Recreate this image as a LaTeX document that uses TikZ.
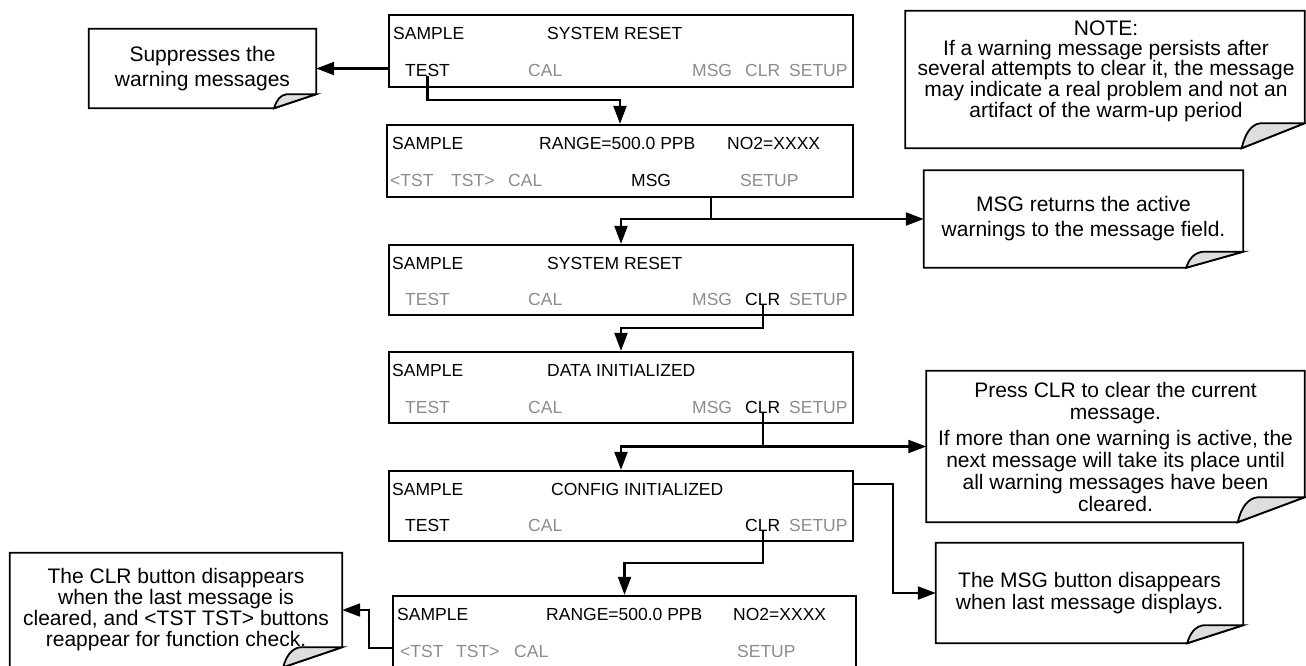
\documentclass[tikz,border=0pt]{standalone}
\usepackage{fontspec}
\setmainfont{Liberation Sans}
\usetikzlibrary{arrows.meta,backgrounds}
\definecolor{btngray}{gray}{0.55}
\definecolor{curlgray}{gray}{0.87}
\newcommand\scrfont{\fontsize{17.5}{20}\selectfont}
\newcommand\foldframe[3]{%
  \draw[callbox] (#1.north west) -- (#1.north east) -- ([yshift=#3pt]#1.south east)
     -- ([xshift=-#2pt]#1.south east) -- (#1.south west) -- cycle;
  \draw[callbox, fill=curlgray] ([xshift=-#2pt]#1.south east)
     .. controls ([xshift={-0.95*#2pt}, yshift={0.55*#3pt}]#1.south east)
     and ([xshift={-0.86*#2pt}, yshift={0.95*#3pt}]#1.south east)
     .. ([xshift={-0.7*#2pt}, yshift=#3pt]#1.south east) -- ([yshift=#3pt]#1.south east) -- cycle;
}
\begin{document}
\begin{tikzpicture}[x=1pt,y=-1pt,
  screen/.style={draw, line width=2.3pt, inner sep=0pt, rectangle},
  lbl/.style={anchor=base west, inner sep=0pt, font=\scrfont},
  dim/.style={lbl, text=btngray},
  conn/.style={line width=2.2pt},
  arr/.style={conn, -{Triangle[length=18pt,width=13pt]}},
  callout/.style={align=center, inner sep=0pt, rectangle},
  callbox/.style={line width=1.8pt, line join=miter}]
\useasboundingbox (0,0) rectangle (1306,665);

% screen 1
\node[screen, minimum width=464pt, minimum height=72pt] (s1) at (621,51) {};
\node[lbl] (s1a) at (393,39) {SAMPLE};
\node[lbl] (s1b) at (547,39) {SYSTEM RESET};
\node[lbl] (s1test) at (405,76) {TEST};
\node[dim] (s1cal) at (528,76) {CAL};
\node[dim] (s1msg) at (692,76) {MSG};
\node[dim] (s1clr) at (745,76) {CLR};
\node[dim] (s1setup) at (789,76) {SETUP};

% screen 2
\node[screen, minimum width=466pt, minimum height=72pt] (s2) at (620,161) {};
\node[lbl] (s2a) at (392,149) {SAMPLE};
\node[lbl] (s2b) at (539,149) {RANGE=500.0 PPB};
\node[lbl] (s2c) at (727,149) {NO2=XXXX};
\node[dim] (s2t1) at (390,186) {<TST};
\node[dim] (s2t2) at (451,186) {TST>};
\node[dim] (s2cal) at (508,186) {CAL};
\node[lbl] (s2msg) at (631,186) {MSG};
\node[dim] (s2setup) at (740,186) {SETUP};

% screen 3
\node[screen, minimum width=464pt, minimum height=70pt] (s3) at (621,280) {};
\node[lbl] (s3a) at (392,269) {SAMPLE};
\node[lbl] (s3b) at (547,269) {SYSTEM RESET};
\node[dim] (s3test) at (405,305) {TEST};
\node[dim] (s3cal) at (528,305) {CAL};
\node[dim] (s3msg) at (692,305) {MSG};
\node[lbl] (s3clr) at (745,305) {CLR};
\node[dim] (s3setup) at (789,305) {SETUP};

% screen 4
\node[screen, minimum width=464pt, minimum height=71pt] (s4) at (621,387.5) {};
\node[lbl] (s4a) at (392,376) {SAMPLE};
\node[lbl] (s4b) at (547,376) {DATA INITIALIZED};
\node[dim] (s4test) at (405,413) {TEST};
\node[dim] (s4cal) at (528,413) {CAL};
\node[dim] (s4msg) at (692,413) {MSG};
\node[lbl] (s4clr) at (745,413) {CLR};
\node[dim] (s4setup) at (789,413) {SETUP};

% screen 5
\node[screen, minimum width=464pt, minimum height=70pt] (s5) at (621,506) {};
\node[lbl] (s5a) at (392,495) {SAMPLE};
\node[lbl] (s5b) at (551,495) {CONFIG INITIALIZED};
\node[lbl] (s5test) at (405,531) {TEST};
\node[dim] (s5cal) at (528,531) {CAL};
\node[lbl] (s5clr) at (745,531) {CLR};
\node[dim] (s5setup) at (789,531) {SETUP};

% screen 6
\node[screen, minimum width=463pt, minimum height=74pt] (s6) at (624.5,633) {};
\node[lbl] (s6a) at (397,620) {SAMPLE};
\node[lbl] (s6b) at (546,620) {RANGE=500.0 PPB};
\node[lbl] (s6c) at (733,620) {NO2=XXXX};
\node[dim] (s6t1) at (400,657) {<TST};
\node[dim] (s6t2) at (456,657) {TST>};
\node[dim] (s6cal) at (514,657) {CAL};
\node[dim] (s6setup) at (737,657) {SETUP};

% callouts
\node[callout, font={\fontsize{21}{25}\selectfont}, minimum width=227pt, minimum height=79pt]
  (cA) at (202.5,68.5) {Suppresses the\\warning messages};
\node[callout, minimum width=399pt, minimum height=137pt] (cNote) at (1105,79.5) {};
\node[callout, font={\fontsize{21}{19.5}\selectfont}, anchor=north] (cNoteTxt) at (1106,21)
  {NOTE:\\If a warning message persists after\\several attempts to clear it, the message\\may indicate a real problem and not an\\artifact of the warm-up period};
\node[callout, font={\fontsize{21}{25}\selectfont}, minimum width=319pt, minimum height=97pt]
  (cMsg) at (1083.5,219) {MSG returns the active\\warnings to the message field.};
\node[callout, font={\fontsize{21}{22}\selectfont}, minimum width=378pt, minimum height=151pt]
  (cPress) at (1115.5,446.5) {Press CLR to clear the current\\message.\\[4pt]If more than one warning is active, the\\next message will take its place until\\all warning messages have been\\cleared.};
\node[callout, font={\fontsize{21}{22}\selectfont}, minimum width=307pt, minimum height=100pt]
  (cMsg2) at (1089.5,593) {The MSG button disappears\\when last message displays.};
\node[callout, font={\fontsize{21}{21}\selectfont}, minimum width=332pt, minimum height=114pt]
  (cC) at (176,610) {The CLR button disappears\\when the last message is\\cleared, and <TST TST> buttons\\reappear for function check.};

\begin{scope}[on background layer]
\foldframe{cA}{42}{14}
\foldframe{cNote}{63}{25}
\foldframe{cMsg}{57}{16}
\foldframe{cPress}{67}{25}
\foldframe{cMsg2}{56}{18}
\foldframe{cC}{59}{20}
\end{scope}

% connectors
\draw[arr] (s1.west |- cA.east) -- (cA.east);
\draw[arr] (s1test.south) -- ++(0,24) -| (s2.north);
\coordinate (s2m) at ([xshift=91pt]s2.south);
\coordinate (j2) at (s2m |- cMsg.west);
\draw[conn] (s2m) -- (j2);
\draw[arr] (j2) -| (s3.north);
\draw[arr] (j2) -- (cMsg.west);
\draw[arr] (s3clr.south) |- ([yshift=23pt]s4.north) -- (s4.north);
\coordinate (j4) at (s4clr.south |- cPress.west);
\draw[conn] (s4clr.south) -- (j4);
\draw[arr] (j4) -| (s5.north);
\draw[arr] (j4) -- (cPress.west);
\draw[arr] ([yshift=22pt]s5.east) -- ++(39,0) |- (cMsg2.west);
\draw[arr] (s5clr.south) |- ([yshift=32pt]s6.north) -- (s6.north);
\draw[arr] ([yshift=-15pt]s6.west) -- ++(-23,0) |- (cC.east);
\end{tikzpicture}
\end{document}
